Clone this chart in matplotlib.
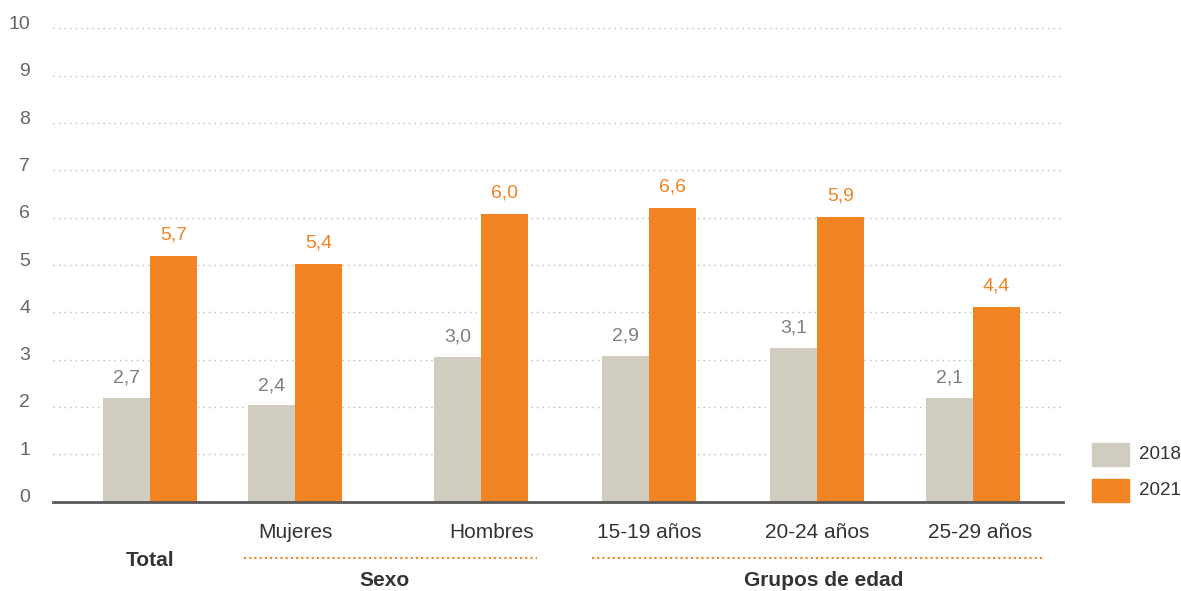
"""
Barras 2018 vs 2021 por sexo y grupos de edad
"""

import matplotlib
matplotlib.use("Agg")
import matplotlib.pyplot as plt
import matplotlib.transforms as mtransforms

# Datos
categorias = ["Total", "Mujeres", "Hombres", "15-19 años", "20-24 años", "25-29 años"]
valores_2018 = [2.19, 2.04, 3.06, 3.08, 3.25, 2.19]
valores_2021 = [5.19, 5.02, 6.08, 6.20, 6.01, 4.11]
etiquetas_2018 = ["2,7", "2,4", "3,0", "2,9", "3,1", "2,1"]
etiquetas_2021 = ["5,7", "5,4", "6,0", "6,6", "5,9", "4,4"]
series = ["2018", "2021"]
grupos = ["Sexo", "Grupos de edad"]

# Posiciones (px de la figura)
centros = [150, 295, 481, 649, 817, 973]
pos_etiquetas = [150, 295, 492, 649, 817, 980]
ancho = 47

COL_2018 = "#D0CDC0"
COL_2021 = "#F28322"
GRIS_TXT = "#666666"
OSCURO = "#333333"

plt.rcParams["font.family"] = ["Liberation Sans", "DejaVu Sans"]

W, H = 1181, 591
fig = plt.figure(figsize=(W / 100, H / 100), dpi=100)
y0_px, y10_px = 501.5, 28.5
ax = fig.add_axes([53 / W, (H - y0_px) / H, (1063 - 53) / W, (y0_px - y10_px) / H])
ax.set_xlim(53, 1063)
ax.set_ylim(0, 10)

x18 = [c - ancho / 2 for c in centros]
x21 = [c + ancho / 2 for c in centros]
ax.bar(x18, valores_2018, width=ancho, color=COL_2018, zorder=2)
ax.bar(x21, valores_2021, width=ancho, color=COL_2021, zorder=2)

# Etiquetas de valor
for x, v, t in zip(x18, valores_2018, etiquetas_2018):
    ax.annotate(t, (x, v), xytext=(0, 14), textcoords="offset points",
                ha="center", va="center", fontsize=14, color="#7f7f7f")
for x, v, t in zip(x21, valores_2021, etiquetas_2021):
    ax.annotate(t, (x, v), xytext=(0, 15), textcoords="offset points",
                ha="center", va="center", fontsize=14, color=COL_2021)

# Ejes y grilla
for s in ["top", "right", "left"]:
    ax.spines[s].set_visible(False)
ax.spines["bottom"].set_color("#5a5a5a")
ax.spines["bottom"].set_linewidth(2.0)
ax.spines["bottom"].set_zorder(3)
ax.set_yticks(range(0, 11))
ax.set_xticks([])
ax.tick_params(axis="y", length=0, pad=16.5, labelsize=14, labelcolor=GRIS_TXT)
desplazamiento = mtransforms.ScaledTranslation(0, 6 / 100, fig.dpi_scale_trans)
for lab in ax.get_yticklabels():
    lab.set_transform(lab.get_transform() + desplazamiento)
for v in range(1, 11):
    ax.axhline(v, linestyle=(0, (1, 3)), color="#bbbbbb", linewidth=1.0,
               zorder=0, clip_on=False)

# Etiquetas de categorías
tr = mtransforms.blended_transform_factory(ax.transData, fig.transFigure)
def fy(px):
    return 1 - px / H

ax.text(pos_etiquetas[0], fy(560), categorias[0], transform=tr, ha="center", va="center",
        fontsize=15, fontweight="bold", color=OSCURO)
for c, cat in zip(pos_etiquetas[1:], categorias[1:]):
    ax.text(c, fy(533), cat, transform=tr, ha="center", va="center",
            fontsize=15, color=OSCURO)

ax.plot([244, 537], [fy(558), fy(558)], transform=tr, clip_on=False,
        color=COL_2021, linestyle=(0, (1, 1.5)), linewidth=1.5)
ax.plot([592, 1042], [fy(558), fy(558)], transform=tr, clip_on=False,
        color=COL_2021, linestyle=(0, (1, 1.5)), linewidth=1.5)
ax.text(385, fy(580), grupos[0], transform=tr, ha="center", va="center",
        fontsize=15, fontweight="bold", color=OSCURO)
ax.text(824, fy(580), grupos[1], transform=tr, ha="center", va="center",
        fontsize=15, fontweight="bold", color=OSCURO)

# Leyenda manual
for i, (nombre, col) in enumerate(zip(series, [COL_2018, COL_2021])):
    top = 443 + i * 36
    fig.patches.append(plt.Rectangle((1092 / W, fy(top + 23)), 37 / W, 23 / H,
                                     transform=fig.transFigure, color=col))
    fig.text(1139 / W, fy(top + 11.5), nombre, ha="left", va="center",
             fontsize=13.5, color=OSCURO)

fig.savefig("out.png", dpi=100)
